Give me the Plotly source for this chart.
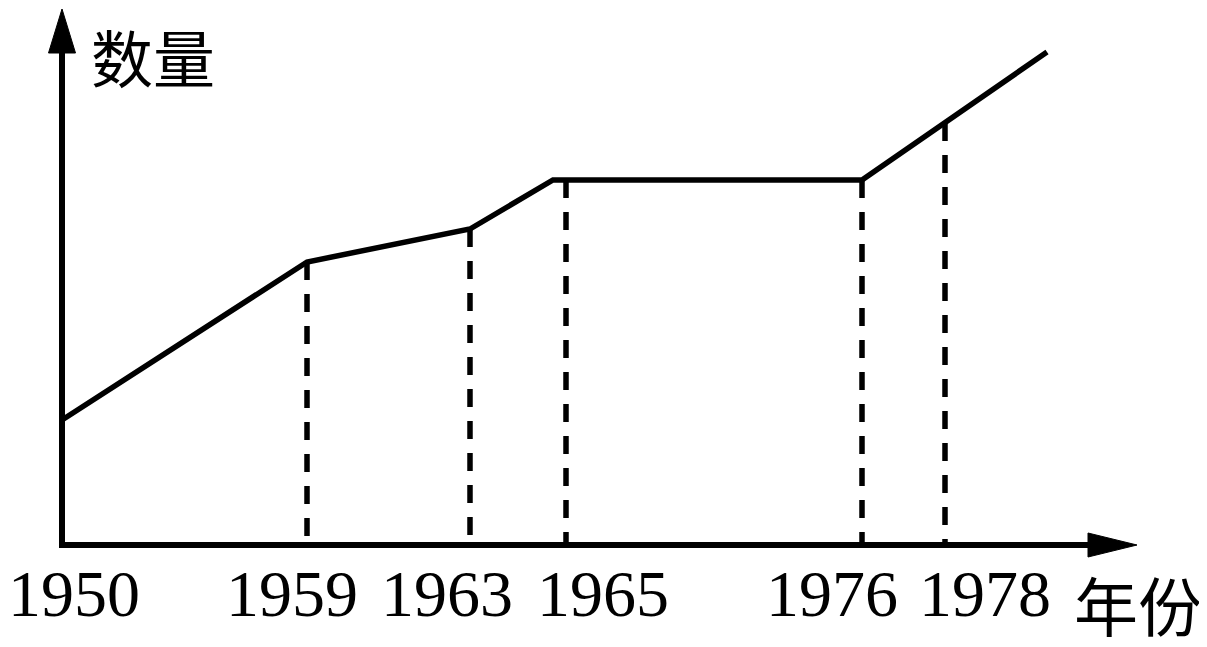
import plotly.graph_objects as go

# ---- data (schematic chart: horizontal positions are schematic, not linear in years) ----
years = ["1950", "1959", "1963", "1965", "1976", "1978"]
year_pos = [0, 245, 408, 491, 800, 883]          # schematic position of each year on the line
line_end_pos = 985                               # unlabeled end of the curve
quantity = [125, 283, 316, 365, 365, 422, 493]   # relative quantity (schematic units)
guide_pos = [245, 408, 504, 800, 883]            # dashed guide positions (1959..1978)
guide_val = [283, 316, 365, 365, 422]

# ---- styling / layout ----
label_shift = [12, -15, -23, 37, -30, 40]
W, H = 1207, 647
PAGE_OFF = 8          # default page body margin
X0, Y0 = 62, 545      # viewport pixel location of origin
x_range = [PAGE_OFF - X0, W + PAGE_OFF - X0]
y_range = [Y0 - (H + PAGE_OFF), Y0 - PAGE_OFF]

fig = go.Figure()

# dashed guides
for gx, gv in zip(guide_pos, guide_val):
    fig.add_trace(go.Scatter(
        x=[gx, gx], y=[gv, 0], mode="lines",
        line=dict(color="black", width=5.5, dash="18px,14px"),
        hoverinfo="skip", showlegend=False))

# main curve
fig.add_trace(go.Scatter(
    x=year_pos + [line_end_pos], y=quantity, mode="lines",
    line=dict(color="black", width=5.5),
    hoverinfo="skip", showlegend=False))

x_axis_end = 1075
y_axis_end = 536
shapes = [
    dict(type="line", xref="x", yref="y", x0=0, y0=-3, x1=0, y1=y_axis_end - 40,
         line=dict(color="black", width=6)),
    dict(type="line", xref="x", yref="y", x0=-3, y0=0, x1=x_axis_end - 40, y1=0,
         line=dict(color="black", width=6)),
    dict(type="path", xref="x", yref="y",
         path=f"M -13.5 {y_axis_end-44} L 0 {y_axis_end} L 13.5 {y_axis_end-44} Z",
         fillcolor="black", line=dict(color="black", width=1)),
    dict(type="path", xref="x", yref="y",
         path=f"M {x_axis_end-49} -12 L {x_axis_end} 0 L {x_axis_end-49} 12 Z",
         fillcolor="black", line=dict(color="black", width=1)),
]

annotations = []
label_positions = [0] + guide_pos
for yr, px, sh in zip(years, label_positions, label_shift):
    annotations.append(dict(
        x=px, y=-48, xref="x", yref="y", text=yr, showarrow=False,
        xshift=sh, xanchor="center", yanchor="middle",
        font=dict(family="Liberation Serif", size=66, color="black")))

annotations.append(dict(
    x=89 - X0, y=Y0 - 9, xref="x", yref="y", text="数量", showarrow=False,
    xanchor="left", yanchor="top",
    font=dict(family="Noto Sans CJK SC", size=62, color="black")))
annotations.append(dict(
    x=1072 - X0, y=Y0 - 603, xref="x", yref="y", text="年份", showarrow=False,
    xanchor="left", yanchor="middle",
    font=dict(family="Noto Sans CJK SC", size=64, color="black")))

fig.update_layout(
    width=W, height=H,
    margin=dict(l=0, r=0, t=0, b=0),
    paper_bgcolor="white", plot_bgcolor="white",
    xaxis=dict(range=x_range, visible=False, fixedrange=True),
    yaxis=dict(range=y_range, visible=False, fixedrange=True),
    shapes=shapes, annotations=annotations,
)

fig.write_html("out.html")
